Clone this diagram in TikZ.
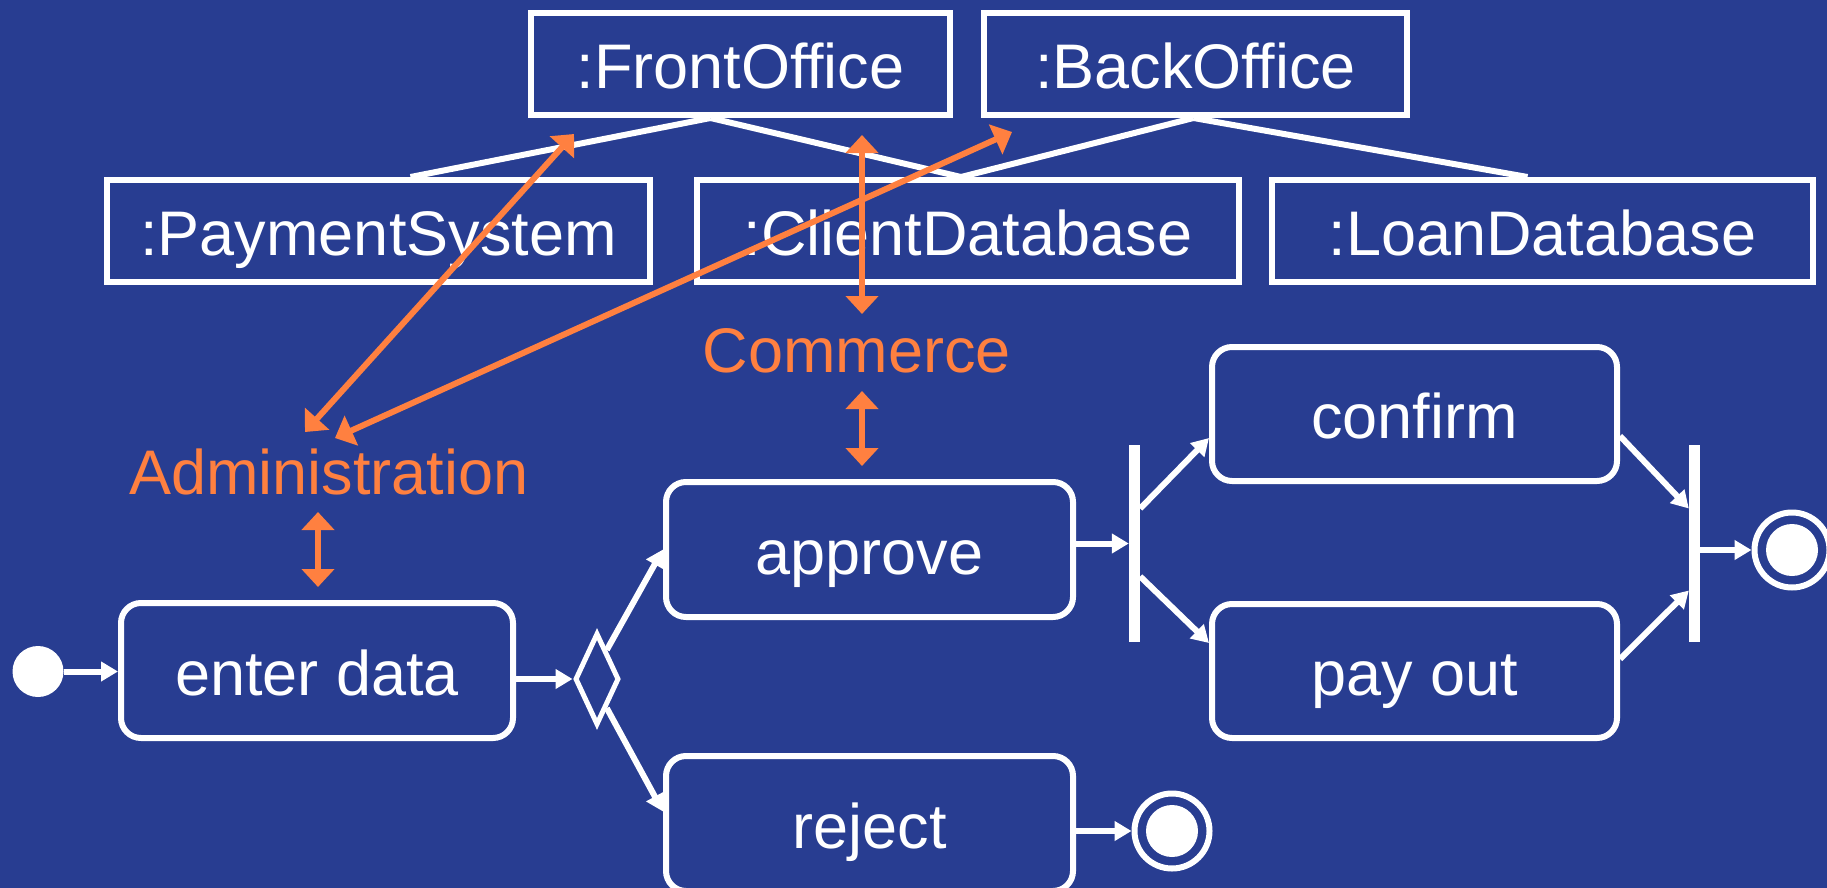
\documentclass[tikz,border=0pt]{standalone}
\usepackage{fontspec}
\setmainfont{Liberation Sans}
\usetikzlibrary{arrows.meta,shapes.geometric,calc}
\definecolor{bg}{RGB}{40,61,145}
\definecolor{org}{RGB}{255,128,64}
\begin{document}
\begin{tikzpicture}[x=1pt,y=-1pt,
  bigtxt/.style={font=\fontsize{63}{70}\selectfont},
  objbox/.style={draw=white, line width=6pt, text=white, bigtxt, inner sep=0pt, text height=49pt, text depth=0pt},
  actbox/.style={objbox, rounded corners=20pt},
  barnode/.style={fill=white, inner sep=0pt, minimum width=11pt, minimum height=197pt},
  wline/.style={white, line width=6pt},
  warr/.style={wline, -{Triangle[length=17pt,width=19pt]}},
  oarr/.style={org, line width=6pt, {Triangle[length=18pt,width=32pt]}-{Triangle[length=18pt,width=32pt]}},
  olab/.style={text=org, bigtxt, anchor=base, inner sep=0pt},
  finalst/.style={circle, draw=white, line width=6pt, minimum size=75pt, inner sep=0pt},
]
\fill[bg] (0,0) rectangle (1827,888);
\useasboundingbox (0,0) rectangle (1827,888);

% object boxes
\node[objbox, minimum width=419pt, minimum height=102pt] (fo) at (740.5,64) {:FrontOffice};
\node[objbox, minimum width=423pt, minimum height=102pt] (bo) at (1195.5,64) {:BackOffice};
\node[objbox, minimum width=543pt, minimum height=102pt] (ps) at (378.5,231) {:PaymentSystem};
\node[objbox, minimum width=542pt, minimum height=102pt] (cd) at (968,231) {:ClientDatabase};
\node[objbox, minimum width=541pt, minimum height=102pt] (ld) at (1542.5,231) {:LoanDatabase};

\coordinate (foapex) at ($(fo.south)+(-30,0)$);
\coordinate (boapex) at ($(bo.south)+(-2,0)$);
\draw[wline] (foapex) -- ($(ps.north)+(32,0)$);
\draw[wline] (foapex) -- ($(cd.north)+(-7,0)$);
\draw[wline] (boapex) -- ($(cd.north)+(-7,0)$);
\draw[wline] (boapex) -- ($(ld.north)+(-15,0)$);

% activity boxes
\node[actbox, minimum width=392pt, minimum height=135pt] (ed) at (317,670.5) {enter data};
\node[actbox, minimum width=407pt, minimum height=135pt] (ap) at (869.5,549.5) {approve};
\node[actbox, minimum width=407pt, minimum height=135pt] (rj) at (869.5,823.5) {reject};
\node[actbox, minimum width=405pt, minimum height=134pt] (cf) at (1414.5,414) {confirm};
\node[actbox, minimum width=405pt, minimum height=134pt] (po) at (1414.5,671) {pay out};

\node[barnode] (fk) at (1134.5,543.5) {};
\node[barnode] (jn) at (1694.5,543.5) {};

\node[circle, fill=white, minimum size=51pt, inner sep=0pt] (init) at (38,671.5) {};
\node[finalst] (f1) at (1792,550) {};
\fill[white] (f1.center) circle[radius=26pt];
\node[finalst] (f2) at (1172,831) {};
\fill[white] (f2.center) circle[radius=26pt];

\node[diamond, draw=white, line width=5pt, minimum width=44pt, minimum height=92pt, inner sep=0pt] (dm) at (597,679) {};

% transitions
\draw[warr] (init.east) -- (init -| ed.west);
\draw[warr] (ed.east |- dm.west) -- (dm.west);
\draw[warr] ($(dm.north)!0.4!(dm.east)$) -- (ap.west);
\draw[warr] ($(dm.south)!0.4!(dm.east)$) -- ($(rj.west)+(0,-12)$);
\draw[warr] (ap.east |- fk.west) -- (fk.west);
\draw[warr] ($(fk.east)+(0,-35)$) -- ($(cf.west)+(0,24)$);
\draw[warr] ($(fk.east)+(0,33)$) -- ($(po.west)+(0,-28)$);
\draw[warr] ($(cf.east)+(0,22)$) -- ($(jn.west)+(0,-35)$);
\draw[warr] ($(po.east)+(0,-12)$) -- ($(jn.west)+(0,47)$);
\draw[warr] (jn.east |- f1.west) -- (f1.west);
\draw[warr] (rj.east |- f2.west) -- (f2.west);

% orange labels and arrows
\node[olab] (com) at (857,372) {Commerce};
\node[olab] (adm) at (329,494) {Administration};

\coordinate (c1a) at (862,135);
\coordinate (c1b) at (862,314);
\coordinate (c2a) at (862,391);
\coordinate (c2b) at (862,466);
\coordinate (a1a) at (318,512);
\coordinate (a1b) at (318,587);
\coordinate (a2a) at (305,432);
\coordinate (a2b) at (574,134);
\coordinate (a3a) at (335,438);
\coordinate (a3b) at (1012,132);

\draw[oarr] (c1a) -- (c1b);
\draw[oarr] (c2a) -- (c2b);
\draw[oarr] (a1a) -- (a1b);
\draw[oarr] (a2a) -- (a2b);
\draw[oarr] (a3a) -- (a3b);
\end{tikzpicture}
\end{document}
